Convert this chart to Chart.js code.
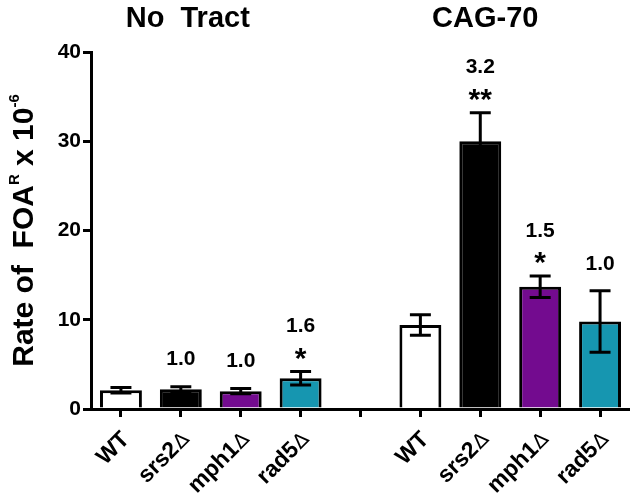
<!DOCTYPE html>
<html>
<head>
<meta charset="utf-8">
<script src="https://cdn.jsdelivr.net/npm/chart.js@4.4.1/dist/chart.umd.min.js"></script>
<style>
  html, body { margin: 0; padding: 0; background: #ffffff; }
  #wrap { width: 630px; height: 503px; position: relative; }
</style>
</head>
<body>
<div id="wrap"><canvas id="c" width="630" height="503"></canvas></div>
<script>
// ---- data ----
const groupTitles = ['No  Tract', 'CAG-70'];
const strainNames = ['WT', 'srs2', 'mph1', 'rad5', '', 'WT', 'srs2', 'mph1', 'rad5'];
const deltaMark   = [false, true, true, true, false, false, true, true, true];
const rates       = [2.1, 2.2, 2.0, 3.45, null, 9.4, 30.0, 13.7, 9.8];
const errors      = [0.3, 0.3, 0.3, 0.75, null, 1.15, 3.2, 1.2, 3.45];
const foldLabels  = ['', '1.0', '1.0', '1.6', '', '', '3.2', '1.5', '1.0'];
const sigLabels   = ['', '', '', '*', '', '', '**', '*', ''];
const barColors   = ['#ffffff', '#000000', '#730b8f', '#1696b0', '#ffffff', '#ffffff', '#000000', '#730b8f', '#1696b0'];
const yTicks      = [0, 10, 20, 30, 40];

const FONT = "'Liberation Sans', Arial, sans-serif";

const errorBars = {
  id: 'errorBars',
  afterDatasetsDraw(chart) {
    const ctx = chart.ctx;
    const y = chart.scales.y;
    const meta = chart.getDatasetMeta(0);
    ctx.save();
    ctx.strokeStyle = '#000';
    ctx.lineWidth = 3;
    ctx.lineCap = 'butt';
    rates.forEach((v, i) => {
      if (v === null || errors[i] === null) return;
      const bar = meta.data[i];
      const x = bar.x;
      const cap = bar.width * 0.25;
      const yt = y.getPixelForValue(v + errors[i]);
      const yb = y.getPixelForValue(v - errors[i]);
      ctx.beginPath();
      ctx.moveTo(x, yt); ctx.lineTo(x, yb);
      ctx.moveTo(x - cap, yt); ctx.lineTo(x + cap, yt);
      ctx.moveTo(x - cap, yb); ctx.lineTo(x + cap, yb);
      ctx.stroke();
    });
    ctx.restore();
  }
};

const annotations = {
  id: 'annotations',
  afterDraw(chart) {
    const ctx = chart.ctx;
    const y = chart.scales.y;
    const xs = chart.scales.x;
    const meta = chart.getDatasetMeta(0);
    ctx.save();
    ctx.fillStyle = '#000';
    ctx.textAlign = 'center';
    // fold change + significance
    rates.forEach((v, i) => {
      if (v === null) return;
      const x = meta.data[i].x;
      const top = y.getPixelForValue(v + errors[i]);
      if (sigLabels[i]) {
        ctx.textBaseline = 'alphabetic';
        ctx.font = "bold 30px " + FONT;
        ctx.fillText(sigLabels[i], x, top - 4);
        ctx.textBaseline = 'middle';
        ctx.font = "bold 21px " + FONT;
        ctx.fillText(foldLabels[i], x, top - 45);
      } else if (foldLabels[i]) {
        ctx.textBaseline = 'middle';
        ctx.font = "bold 21px " + FONT;
        ctx.fillText(foldLabels[i], x, top - 27);
      }
    });
    // group titles
    ctx.font = "bold 29px " + FONT;
    ctx.textBaseline = 'alphabetic';
    const g1 = (xs.getPixelForValue(0) + xs.getPixelForValue(3)) / 2 - 23;
    const g2 = (xs.getPixelForValue(5) + xs.getPixelForValue(8)) / 2 - 25;
    ctx.fillText(groupTitles[0], g1, 27);
    ctx.fillText(groupTitles[1], g2, 27);

    // category labels, rotated 45 deg
    const baseY = chart.chartArea.bottom;
    const nameFont = "bold 23px " + FONT;
    const deltaFont = "20px 'DejaVu Sans', sans-serif";
    strainNames.forEach((name, i) => {
      if (!name) return;
      const x = xs.getPixelForValue(i);
      ctx.save();
      ctx.translate(x + 5, baseY + 27);
      ctx.rotate(-Math.PI / 4);
      ctx.textBaseline = 'middle';
      ctx.textAlign = 'left';
      ctx.font = nameFont;
      const w1 = ctx.measureText(name).width;
      let w2 = 0;
      if (deltaMark[i]) {
        ctx.font = deltaFont;
        w2 = ctx.measureText('\u2206').width + 1;
      }
      const start = -(w1 + w2);
      ctx.font = nameFont;
      ctx.fillText(name, start, 0);
      if (deltaMark[i]) {
        ctx.font = deltaFont;
        ctx.fillText('\u2206', start + w1 + 1, 1);
      }
      ctx.restore();
    });

    // y-axis title with superscripts
    const segs = [
      { t: 'Rate of  FOA', f: "bold 30px " + FONT, dy: 0 },
      { t: 'R', f: "bold 15px " + FONT, dy: -14 },
      { t: ' x 10', f: "bold 30px " + FONT, dy: 0 },
      { t: '-6', f: "bold 15px " + FONT, dy: -14 }
    ];
    let total = 0;
    segs.forEach(s => { ctx.font = s.f; s.w = ctx.measureText(s.t).width; total += s.w; });
    ctx.save();
    ctx.translate(33, (chart.chartArea.top + chart.chartArea.bottom) / 2);
    ctx.rotate(-Math.PI / 2);
    ctx.textAlign = 'left';
    ctx.textBaseline = 'alphabetic';
    let cx = -total / 2;
    segs.forEach(s => { ctx.font = s.f; ctx.fillText(s.t, cx, s.dy); cx += s.w; });
    ctx.restore();
    ctx.restore();
  }
};

new Chart(document.getElementById('c'), {
  type: 'bar',
  data: {
    labels: strainNames.map((n, i) => n + (deltaMark[i] ? '\u2206' : '')),
    datasets: [{
      data: rates,
      backgroundColor: barColors,
      borderColor: '#000',
      borderWidth: 3,
      barPercentage: 0.7,
      categoryPercentage: 1.0
    }]
  },
  options: {
    responsive: false,
    animation: false,
    devicePixelRatio: 1,
    layout: { padding: { top: 52, right: 0, bottom: 0, left: 0 } },
    plugins: { legend: { display: false }, tooltip: { enabled: false }, title: { display: false } },
    scales: {
      x: {
        offset: true,
        border: { color: '#000', width: 3 },
        grid: { offset: false, drawOnChartArea: false, drawTicks: true, tickLength: 8, tickColor: '#000', lineWidth: 3 },
        ticks: { display: false },
        afterFit(s) { s.height = 94; }
      },
      y: {
        min: 0, max: 40,
        border: { color: '#000', width: 3 },
        grid: { drawOnChartArea: false, drawTicks: true, tickLength: 8, tickColor: '#000', lineWidth: 3 },
        afterBuildTicks(s) { s.ticks = yTicks.map(v => ({ value: v })); },
        ticks: { color: '#000', font: { family: FONT, size: 21, weight: 'bold' }, padding: 2 },
        afterFit(s) { s.width = 91; }
      }
    }
  },
  plugins: [errorBars, annotations]
});
</script>
</body>
</html>
